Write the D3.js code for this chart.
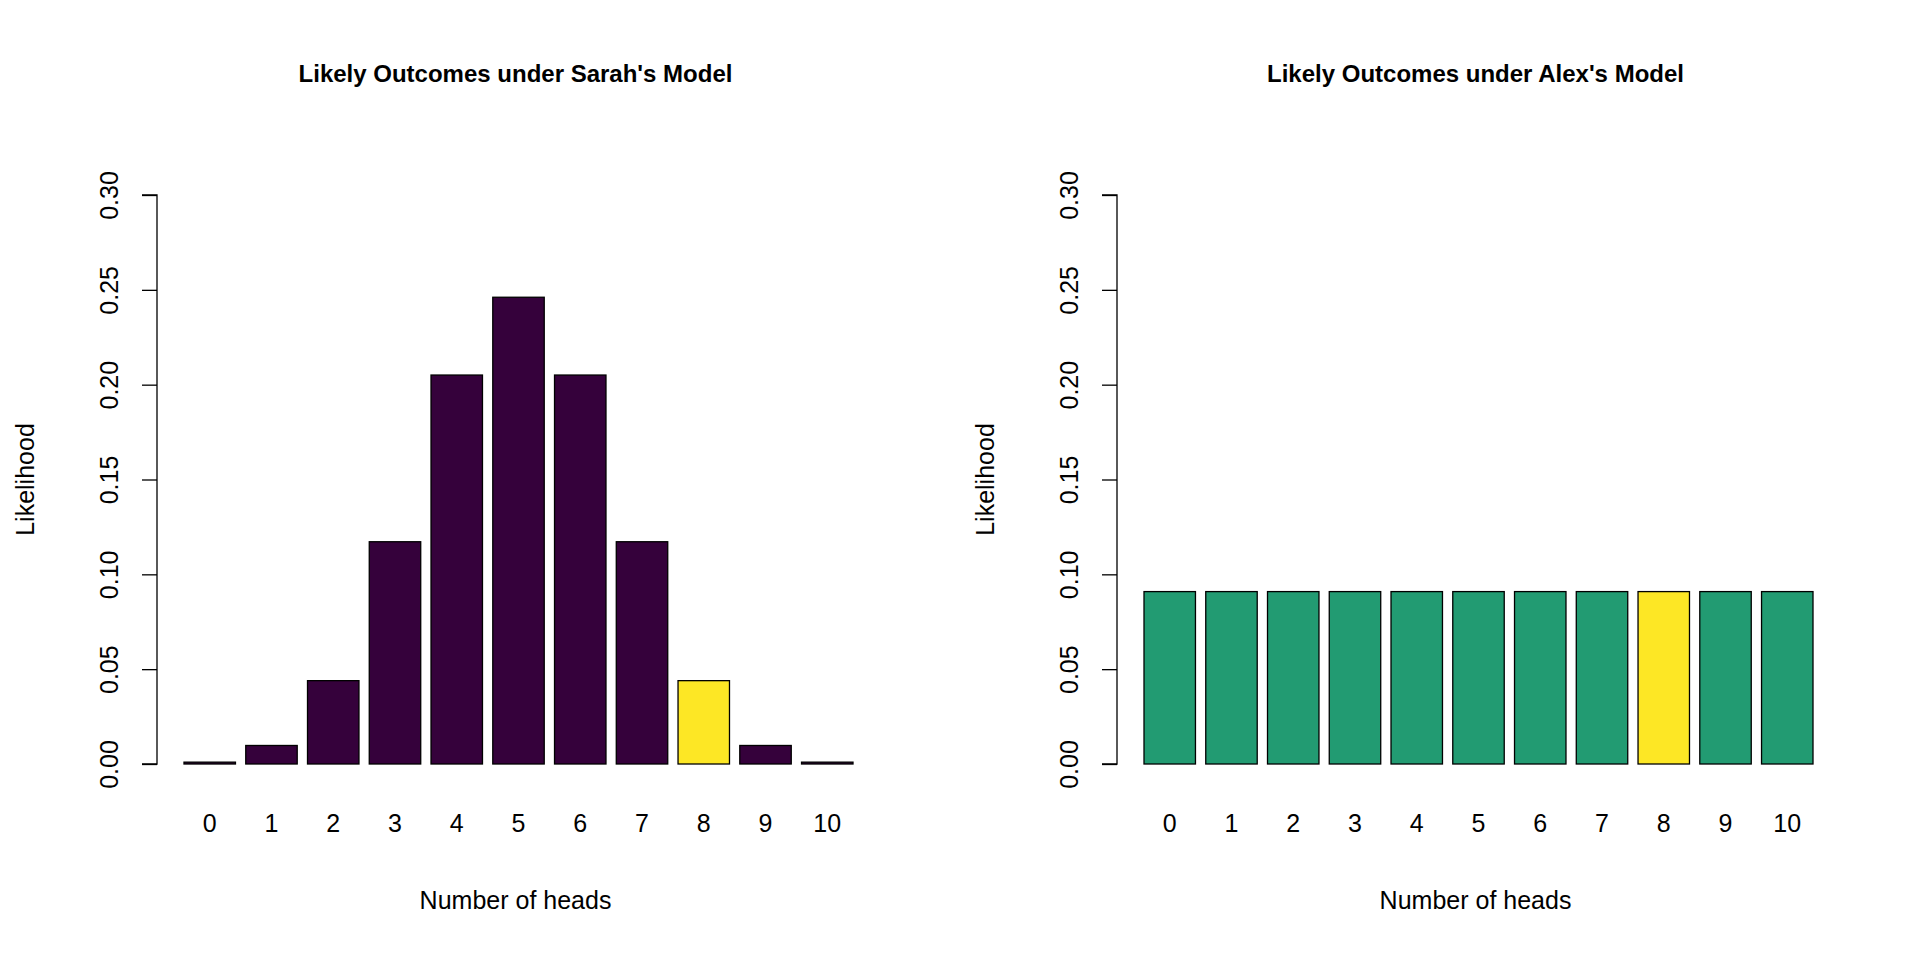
<!DOCTYPE html>
<html>
<head>
<meta charset="UTF-8" />
<script src="https://d3js.org/d3.v7.min.js"></script>
<style>
  body { margin: 0; background: #fff; }
  svg { font-family: "Liberation Sans", Arial, sans-serif; }
</style>
</head>
<body>
<svg id="chart" width="1920" height="960"></svg>
<script>
  const heads = ["0", "1", "2", "3", "4", "5", "6", "7", "8", "9", "10"];
  const sarah = [0.000977, 0.009766, 0.043945, 0.117188, 0.205078, 0.246094,
                 0.205078, 0.117188, 0.043945, 0.009766, 0.000977];
  const alex = [0.0909, 0.0909, 0.0909, 0.0909, 0.0909, 0.0909,
                0.0909, 0.0909, 0.0909, 0.0909, 0.0909];
  const yTicks = [0, 0.05, 0.10, 0.15, 0.20, 0.25, 0.30];
  const observed = "8";

  const panels = [
    { title: "Likely Outcomes under Sarah's Model", values: sarah, fill: "#35013b", axisX: 157, left: 184, right: 853 },
    { title: "Likely Outcomes under Alex's Model", values: alex, fill: "#229b72", axisX: 1117, left: 1144, right: 1813 }
  ];

  const svg = d3.select("#chart");
  const y = d3.scaleLinear().domain([0, 0.3]).range([764, 195]);

  panels.forEach((p) => {
    const g = svg.append("g");
    const x = d3.scaleBand().domain(heads).range([p.left, p.right]).paddingInner(0.2 / 1.2);

    g.selectAll("rect").data(p.values).enter().append("rect")
      .attr("x", (d, i) => x(heads[i]))
      .attr("width", x.bandwidth())
      .attr("y", (d) => y(d))
      .attr("height", (d) => y(0) - y(d))
      .attr("fill", (d, i) => heads[i] === observed ? "#fde725" : p.fill)
      .attr("stroke", "#000")
      .attr("stroke-width", 1.3);

    // y axis
    const ya = g.append("g").attr("transform", `translate(${p.axisX},0)`)
      .call(d3.axisLeft(y).tickValues(yTicks).tickFormat(d3.format(".2f")).tickSize(15).tickPadding(0));
    ya.select(".domain").attr("stroke-width", 1.3).attr("d", `M-15,${y(0)}H0V${y(0.3)}H-15`);
    ya.selectAll(".tick line").attr("stroke-width", 1.3);
    ya.selectAll(".tick text")
      .attr("font-size", 25)
      .attr("text-anchor", "middle")
      .attr("transform", "translate(-48,0) rotate(-90)")
      .attr("x", 0).attr("dy", "0.35em");

    // x labels
    g.selectAll(".xl").data(heads).enter().append("text")
      .attr("x", (d) => x(d) + x.bandwidth() / 2)
      .attr("y", 832)
      .attr("text-anchor", "middle")
      .attr("font-size", 25)
      .text((d) => d);

    g.append("text").attr("x", (p.left + p.right) / 2 - 3).attr("y", 82)
      .attr("text-anchor", "middle").attr("font-size", 24).attr("font-weight", "bold")
      .text(p.title);
    g.append("text").attr("x", (p.left + p.right) / 2 - 3).attr("y", 909)
      .attr("text-anchor", "middle").attr("font-size", 25)
      .text("Number of heads");
    g.append("text")
      .attr("transform", `translate(${p.axisX - 123},${(y(0) + y(0.3)) / 2}) rotate(-90)`)
      .attr("text-anchor", "middle").attr("font-size", 25)
      .text("Likelihood");
  });
</script>
</body>
</html>
